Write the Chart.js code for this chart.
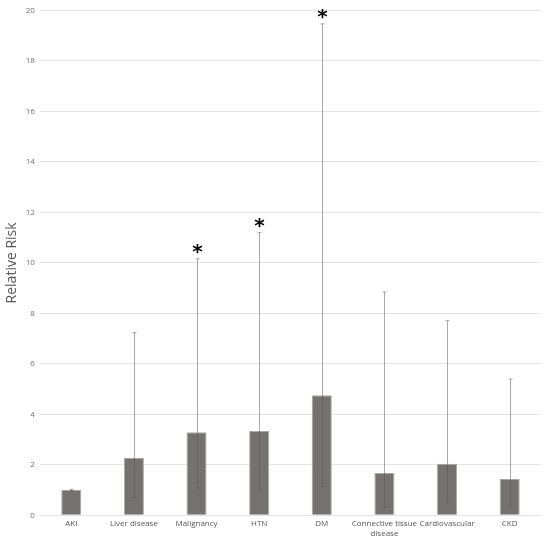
<!DOCTYPE html>
<html>
<head>
<meta charset="utf-8">
<script src="https://cdn.jsdelivr.net/npm/chart.js@4"></script>
<style>
  html, body { margin: 0; padding: 0; background: #fff; overflow: hidden; }
  #wrap { width: 550px; height: 545px; }
</style>
</head>
<body>
<div id="wrap"><canvas id="rrChart"></canvas></div>
<script>
// datos
const categories = ['AKI', 'Liver disease', 'Malignancy', 'HTN', 'DM', ['Connective tissue', 'disease'], 'Cardiovascular', 'CKD'];
const relativeRisk = [1.0, 2.28, 3.29, 3.34, 4.76, 1.68, 2.04, 1.44];
const ciLower = [0.97, 0.71, 1.08, 1.02, 1.14, 0.31, 0.54, 0.37];
const ciUpper = [1.03, 7.24, 10.16, 11.2, 19.47, 8.85, 7.71, 5.40];
const significant = [false, false, true, true, true, false, false, false];
const yTicks = [0, 2, 4, 6, 8, 10, 12, 14, 16, 18, 20];

// barras de error + asteriscos
const errorBarsPlugin = {
    id: 'errorBars',
    afterDatasetsDraw(chart) {
        const ctx = chart.ctx;
        const y = chart.scales.y;
        const meta = chart.getDatasetMeta(0);
        ctx.save();
        meta.data.forEach((bar, i) => {
            const x = Math.round(bar.x) + 0.5;
            const top = y.getPixelForValue(ciUpper[i]);
            const bottom = y.getPixelForValue(ciLower[i]);
            ctx.strokeStyle = 'rgba(85, 85, 85, 0.5)';
            ctx.lineWidth = 1;
            ctx.beginPath();
            ctx.moveTo(x, top);
            ctx.lineTo(x, bottom);
            ctx.moveTo(x - 2, top);
            ctx.lineTo(x + 2, top);
            ctx.moveTo(x - 2, bottom);
            ctx.lineTo(x + 2, bottom);
            ctx.stroke();

            if (significant[i]) {
                ctx.fillStyle = '#000';
                ctx.font = 'bold 20px "DejaVu Sans"';
                ctx.textAlign = 'center';
                ctx.textBaseline = 'alphabetic';
                ctx.fillText('*', x, top - 1);
            }
        });
        ctx.restore();
    }
};

new Chart(document.getElementById('rrChart'), {
    type: 'bar',
    data: {
        labels: categories,
        datasets: [{
            data: relativeRisk,
            backgroundColor: '#767171',
            borderColor: '#a9a6a6',
            borderWidth: 1,
            barPercentage: 0.32,
            categoryPercentage: 1
        }]
    },
    options: {
        responsive: true,
        maintainAspectRatio: false,
        animation: false,
        layout: { padding: { top: 10.5, right: 9, left: 4, bottom: 2.5 } },
        plugins: {
            legend: { display: false },
            tooltip: { enabled: false }
        },
        scales: {
            x: {
                grid: { display: false, drawTicks: false },
                border: { display: false },
                ticks: {
                    color: '#595959',
                    font: { family: "'Open Sans'", size: 8 },
                    maxRotation: 0,
                    autoSkip: false,
                    padding: 4
                }
            },
            y: {
                min: 0,
                max: 20,
                afterBuildTicks: axis => { axis.ticks = yTicks.map(v => ({ value: v })); },
                grid: { color: '#e3e3e3', drawTicks: false },
                border: { display: false },
                ticks: {
                    color: '#6f6f6f',
                    font: { family: "'Open Sans'", size: 8 },
                    padding: 5
                },
                title: {
                    display: true,
                    text: 'Relative Risk',
                    color: '#595959',
                    font: { family: "'Open Sans'", size: 14 },
                    padding: { top: 0, bottom: 0 }
                }
            }
        }
    },
    plugins: [errorBarsPlugin]
});
</script>
</body>
</html>
